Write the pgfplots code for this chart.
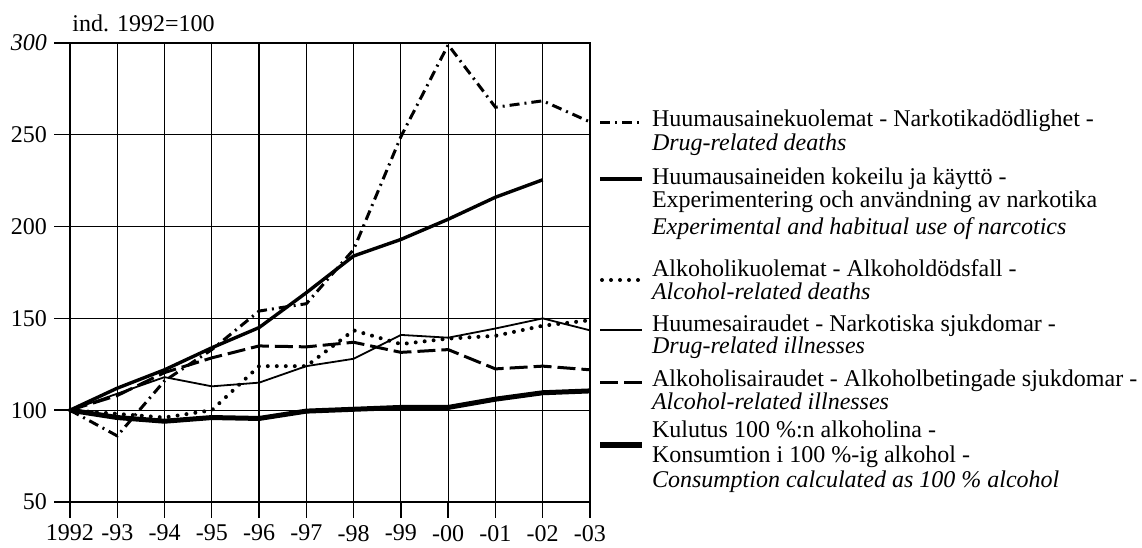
\documentclass[border=0pt]{standalone}
\usepackage{fontspec}
\setmainfont{Liberation Serif}
\usepackage{pgfplots}
\pgfplotsset{compat=1.18}

\begin{document}
\begin{tikzpicture}
\begin{axis}[
  name=ax,
  scale only axis,
  width=260pt, height=229.5pt,
  xmin=1992, xmax=2003,
  ymin=50, ymax=300,
  xtick={1992,...,2003},
  xticklabels={1992,-93,-94,-95,-96,-97,-98,-99,-00,-01,-02,-03},
  ytick={50,100,150,200,250,300},
  yticklabels={50,100,150,200,250,\textit{300}},
  /pgf/number format/assume math mode=true,
  tick label style={font=\fontsize{12}{12}\selectfont},
  tick align=outside,
  major tick length=8pt,
  tick style={black, line width=0.7pt},
  xtick pos=bottom, ytick pos=left,
  grid=major,
  major grid style={black, line width=0.6pt},
  axis line style={line width=1pt},
  clip=false,
]
% drug-related deaths
\addplot[black, line width=1.5pt, dash pattern=on 5pt off 2.5pt on 1pt off 2.5pt] coordinates {
 (1992,100) (1993,86) (1994,116) (1995,133) (1996,154) (1997,158)
 (1998,187.5) (1999,249) (2000,299) (2001,265) (2002,268.5) (2003,257)};
% experimental and habitual use of narcotics
\addplot[black, line width=1.7pt] coordinates {
 (1992,100) (1993,112) (1994,122) (1995,134) (1996,145) (1997,164)
 (1998,184) (1999,193) (2000,204) (2001,216) (2002,225.5)};
% alcohol-related deaths
\addplot[black, line width=2pt, line cap=round, dash pattern=on 0pt off 4.5pt] coordinates {
 (1992,100) (1993,98) (1994,96) (1995,100) (1996,124) (1997,124)
 (1998,143.5) (1999,136) (2000,139) (2001,140.5) (2002,146) (2003,149)};
% drug-related illnesses
\addplot[black, line width=0.9pt] coordinates {
 (1992,100) (1993,109) (1994,118) (1995,113) (1996,115) (1997,124)
 (1998,128) (1999,141) (2000,139.5) (2001,144.5) (2002,150) (2003,143.5)};
% alcohol-related illnesses
\addplot[black, line width=1.5pt, dash pattern=on 9pt off 3pt] coordinates {
 (1992,100) (1993,108) (1994,120.5) (1995,128.5) (1996,135) (1997,134.5)
 (1998,137) (1999,131.5) (2000,133) (2001,122.5) (2002,124) (2003,122)};
% consumption as 100 % alcohol
\addplot[black, line width=2.5pt] coordinates {
 (1992,100) (1993,96) (1994,94) (1995,96) (1996,95.5) (1997,99.5)
 (1998,100.5) (1999,101.5) (2000,101.5) (2001,106) (2002,109.5) (2003,110.5)};
\end{axis}

\begin{scope}[shift={(ax.south west)}]
\path[use as bounding box] (-35pt,-20.5pt) rectangle (536pt,251pt);
\node[anchor=west, inner sep=0pt, font=\fontsize{12}{12}\selectfont] at (1pt,239.5pt) {ind. 1992=100};

% legend samples
\draw[black, line width=1.5pt, dash pattern=on 5pt off 2.5pt on 1pt off 2.5pt] (265pt,189.5pt) -- (286pt,189.5pt);
\draw[black, line width=1.7pt] (265pt,161.5pt) -- (286pt,161.5pt);
\draw[black, line width=2pt, line cap=round, dash pattern=on 0pt off 4.5pt] (266pt,111pt) -- (286pt,111pt);
\draw[black, line width=0.9pt] (265pt,86pt) -- (286pt,86pt);
\draw[black, line width=1.5pt, dash pattern=on 9pt off 3pt] (265pt,59.5pt) -- (286pt,59.5pt);
\draw[black, line width=3pt] (265pt,28.5pt) -- (286pt,28.5pt);

% legend text
\begin{scope}[every node/.style={anchor=base west, inner sep=0pt, font=\fontsize{12}{12}\selectfont}]
\node at (290.8pt,187.6pt) {Huumausainekuolemat - Narkotikadödlighet -};
\node at (290.8pt,175.6pt) {\textit{Drug-related deaths}};
\node at (290.8pt,158.5pt) {Huumausaineiden kokeilu ja käyttö -};
\node at (290.8pt,147pt) {Experimentering och användning av narkotika};
\node at (290.8pt,133.5pt) {\textit{Experimental and habitual use of narcotics}};
\node at (290.8pt,112.5pt) {Alkoholikuolemat - Alkoholdödsfall -};
\node at (290.8pt,101pt) {\textit{Alcohol-related deaths}};
\node at (290.8pt,85.2pt) {Huumesairaudet - Narkotiska sjukdomar -};
\node at (290.8pt,74pt) {\textit{Drug-related illnesses}};
\node at (290.8pt,57.7pt) {Alkoholisairaudet - Alkoholbetingade sjukdomar -};
\node at (290.8pt,46pt) {\textit{Alcohol-related illnesses}};
\node at (290.8pt,32pt) {Kulutus 100 \%:n alkoholina -};
\node at (290.8pt,19.5pt) {Konsumtion i 100 \%-ig alkohol -};
\node at (290.8pt,7pt) {\textit{Consumption calculated as 100 \% alcohol}};
\end{scope}
\end{scope}
\end{tikzpicture}
\end{document}
